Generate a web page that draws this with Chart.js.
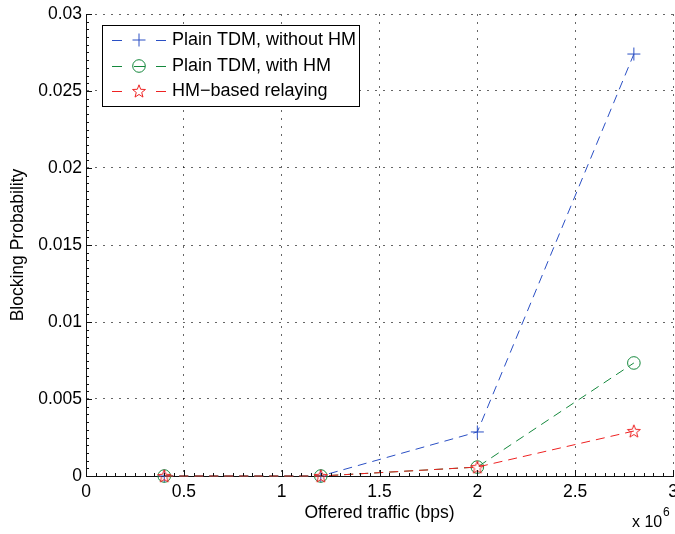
<!DOCTYPE html>
<html lang="en">
<head>
  <meta charset="UTF-8" />
  <title>Blocking Probability vs Offered traffic</title>
  <script src="https://cdn.jsdelivr.net/npm/chart.js@4.4.1/dist/chart.umd.min.js"></script>
  <style>
    html,body{margin:0;padding:0;background:#fff;}
    #chart{display:block;}
  </style>
</head>
<body>
  <canvas id="chart" width="675" height="534"></canvas>

  <script>
    // offered traffic, in units of 10^6 bps
    const traffic = [0.4, 1.2, 2.0, 2.8];
    const noHM    = [0, 0, 0.00286, 0.0274];
    const withHM  = [0, 0, 0.00058, 0.00734];
    const relay   = [0, 0, 0.00058, 0.00292];
    const seriesNames = ['Plain TDM, without HM', 'Plain TDM, with HM', 'HM\u2212based relaying'];

    const xTickValues = [0, 0.5, 1, 1.5, 2, 2.5, 3];
    const xTickLabels = ['0', '0.5', '1', '1.5', '2', '2.5', '3'];
    const yTickValues = [0, 0.005, 0.01, 0.015, 0.02, 0.025, 0.03];
    const yTickLabels = ['0', '0.005', '0.01', '0.015', '0.02', '0.025', '0.03'];
    const xMinorStep = 0.05, yMinorStep = 0.0005;

    const FONT = 'Liberation Sans, Arial, Helvetica, sans-serif';
    const FS = 17.5;
    Chart.defaults.font.family = FONT;
    Chart.defaults.font.size = FS;
    Chart.defaults.color = '#000';

    const BLUE = '#2a4fc4', GREEN = '#14883c', RED = '#ee2222';

    // open pentagram marker, like matlab 'p'
    function pentagram(color, r){
      const c = document.createElement('canvas');
      const s = Math.ceil(r*2 + 4);
      c.width = c.height = s;
      const g = c.getContext('2d');
      g.strokeStyle = color; g.lineWidth = 1;
      g.beginPath();
      for(let i=0;i<10;i++){
        const rr = i%2 ? r*0.42 : r;
        const a = -Math.PI/2 + i*Math.PI/5;
        const px = s/2 + rr*Math.cos(a), py = s/2 + 0.6 + rr*Math.sin(a);
        i ? g.lineTo(px,py) : g.moveTo(px,py);
      }
      g.closePath(); g.stroke();
      return c;
    }
    const starImg = pentagram(RED, 6.8);

    const mk = (label, ys, color, style, radius, order) => ({
      label,
      data: traffic.map((x,i)=>({x, y:ys[i]})),
      borderColor: color, backgroundColor: 'transparent',
      borderWidth: 1, borderDash: [9,6],
      pointStyle: style, pointRadius: radius, pointHoverRadius: radius,
      pointBorderColor: color, pointBackgroundColor: 'transparent', pointBorderWidth: 1,
      tension: 0, clip: false, order
    });

    const datasets = [
      mk(seriesNames[0], noHM,   BLUE,  'cross',  6.5, 3),
      mk(seriesNames[1], withHM, GREEN, 'circle', 6.3, 2),
      mk(seriesNames[2], relay,  RED,   starImg,  7,   1)
    ];

    // inward major/minor ticks, "x 10^6" and the boxed legend
    const decor = {
      id:'decor',
      afterDraw(chart){
        const {ctx, chartArea:a, scales:{x, y}} = chart;
        ctx.save();
        ctx.strokeStyle = '#111'; ctx.lineWidth = 1;
        ctx.beginPath();
        const nx = Math.round((x.max - x.min)/xMinorStep);
        for(let i=0;i<=nx;i++){
          const px = Math.round(x.getPixelForValue(x.min + i*xMinorStep)) + 0.5;
          const len = i%10 === 0 ? 6 : 3;
          ctx.moveTo(px, a.bottom); ctx.lineTo(px, a.bottom - len);
        }
        const ny = Math.round((y.max - y.min)/yMinorStep);
        for(let i=0;i<=ny;i++){
          const py = Math.round(y.getPixelForValue(y.min + i*yMinorStep)) + 0.5;
          const len = i%10 === 0 ? 6 : 3;
          ctx.moveTo(a.left, py); ctx.lineTo(a.left + len, py);
        }
        ctx.stroke();

        // exponent label
        ctx.fillStyle = '#000';
        ctx.textBaseline = 'alphabetic'; ctx.textAlign = 'left';
        ctx.font = `16px ${FONT}`;
        ctx.fillText('x 10', a.right - 41, a.bottom + 51);
        ctx.font = `12px ${FONT}`;
        ctx.fillText('6', a.right - 10, a.bottom + 40);

        // legend
        const lx = a.left + 16, ly = a.top + 11, lw = 257, lh = 81;
        ctx.fillStyle = '#fff';
        ctx.fillRect(lx, ly, lw, lh);
        ctx.strokeStyle = '#000';
        ctx.strokeRect(lx + 0.5, ly + 0.5, lw, lh);
        const rows = [15, 41, 66];
        chart.data.datasets.forEach((ds, i) => {
          const cy = ly + rows[i];
          ctx.strokeStyle = ds.borderColor; ctx.lineWidth = 1;
          ctx.beginPath();
          ctx.moveTo(lx + 10, cy + 0.5); ctx.lineTo(lx + 20, cy + 0.5);
          ctx.moveTo(lx + 54, cy + 0.5); ctx.lineTo(lx + 64, cy + 0.5);
          if(ds.pointStyle === 'circle'){ ctx.moveTo(lx + 32, cy + 0.5); ctx.lineTo(lx + 43, cy + 0.5); }
          ctx.stroke();
          ctx.fillStyle = 'rgba(0,0,0,0)';
          Chart.helpers.drawPoint(ctx, {
            pointStyle: ds.pointStyle, radius: ds.pointRadius, borderWidth: 1, rotation: 0
          }, lx + 37, cy);
          ctx.fillStyle = '#000';
          ctx.font = `18px ${FONT}`;
          ctx.textBaseline = 'middle'; ctx.textAlign = 'left';
          ctx.fillText(ds.label, lx + 70, cy);
        });
        ctx.restore();
      }
    };

    new Chart(document.getElementById('chart').getContext('2d'), {
      type: 'line',
      data: { datasets },
      plugins: [decor],
      options: {
        responsive: false, animation: false, devicePixelRatio: 1,
        layout: { autoPadding: false, padding: { top: 14, right: 2, left: 0, bottom: 0 } },
        plugins: { legend: { display: false }, tooltip: { enabled: false } },
        scales: {
          x: {
            type: 'linear', min: 0, max: 3,
            afterBuildTicks: s => { s.ticks = xTickValues.map(value => ({value})); },
            afterFit: s => { s.height = 58; s.paddingLeft = 0; s.paddingRight = 0; },
            ticks: { callback: (v, i) => xTickLabels[i], padding: 6, maxRotation: 0, autoSkip: false },
            grid: { color: 'rgba(0,0,0,0.6)', lineWidth: 1, drawTicks: false },
            border: { display: true, color: '#111', width: 1, dash: [2,6] },
            title: { display: true, text: 'Offered traffic (bps)', padding: { top: 0, bottom: 10 } }
          },
          y: {
            type: 'linear', min: 0, max: 0.03,
            afterBuildTicks: s => { s.ticks = yTickValues.map(value => ({value})); },
            afterFit: s => { s.width = 86; s.paddingTop = 0; s.paddingBottom = 0; },
            ticks: { callback: (v, i) => yTickLabels[i], padding: 4, autoSkip: false },
            grid: { color: 'rgba(0,0,0,0.6)', lineWidth: 1, drawTicks: false },
            border: { display: true, color: '#111', width: 1, dash: [2,6] },
            title: { display: true, text: 'Blocking Probability', padding: { top: 8, bottom: 0 } }
          }
        }
      }
    });
  </script>
</body>
</html>
